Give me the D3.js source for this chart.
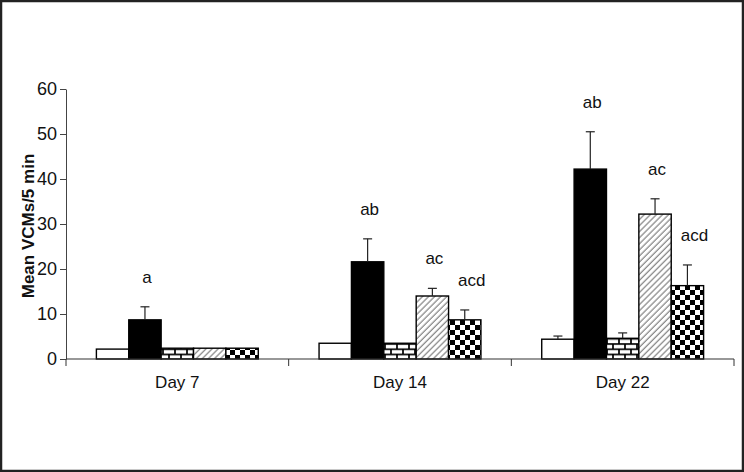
<!DOCTYPE html>
<html>
<head>
<meta charset="utf-8">
<script src="https://cdn.jsdelivr.net/npm/d3@7"></script>
<style>
    body { margin: 0; background: #fff; }
    text { font-family: "Liberation Sans", Arial, sans-serif; fill: #111; }
</style>
</head>
<body>
<div id="chart"></div>
<script>
'use strict';

// categories and treatment groups
let days = ['Day 7', 'Day 14', 'Day 22'];
let groups = ['g1', 'g2', 'g3', 'g4', 'g5'];

// mean VCMs per group, one value per day
let meanG1 = [2.2, 3.5, 4.4];
let meanG2 = [8.7, 21.6, 42.2];
let meanG3 = [2.4, 3.5, 4.6];
let meanG4 = [2.4, 14.0, 32.2];
let meanG5 = [2.4, 8.7, 16.3];

// standard error (upper bar only)
let semG1 = [0, 0, 0.7];
let semG2 = [2.9, 5.1, 8.3];
let semG3 = [0, 0, 1.2];
let semG4 = [0, 1.7, 3.4];
let semG5 = [0, 2.2, 4.6];

// significance letters
let sigG2 = ['a', 'ab', 'ab'];
let sigG4 = ['', 'ac', 'ac'];
let sigG5 = ['', 'acd', 'acd'];

let yTicks = [0, 10, 20, 30, 40, 50, 60];

let means = [meanG1, meanG2, meanG3, meanG4, meanG5];
let sems = [semG1, semG2, semG3, semG4, semG5];
let sigs = [null, sigG2, null, sigG4, sigG5];
let fills = ['#fff', '#000', 'url(#brick)', 'url(#hatch)', 'url(#check)'];

let rows = [];
days.forEach(function(day, i) {
    groups.forEach(function(g, j) {
        rows.push({
            day: day,
            group: g,
            gi: j,
            mean: means[j][i],
            sem: sems[j][i],
            sig: sigs[j] ? sigs[j][i] : ''
        });
    });
});

let width = 744,
    height = 472;
let fontSize = '17px';

let svg = d3.select('#chart')
    .append('svg')
    .attr('width', width)
    .attr('height', height);

// patterns
let defs = svg.append('defs');

let brick = defs.append('pattern')
    .attr('id', 'brick')
    .attr('patternUnits', 'userSpaceOnUse')
    .attr('width', 12)
    .attr('height', 10.4);
brick.append('rect').attr('width', 12).attr('height', 10.4).attr('fill', '#fff');
brick.append('path')
    .attr('d', 'M0,0.8H12M0,6H12M1,0V5.2M7,5.2V10.4')
    .attr('stroke', '#000')
    .attr('stroke-width', 1.7);

let hatch = defs.append('pattern')
    .attr('id', 'hatch')
    .attr('patternUnits', 'userSpaceOnUse')
    .attr('width', 4.3)
    .attr('height', 10)
    .attr('patternTransform', 'rotate(45)');
hatch.append('rect').attr('width', 4.3).attr('height', 10).attr('fill', '#fff');
hatch.append('line')
    .attr('x1', 1).attr('x2', 1)
    .attr('y1', 0).attr('y2', 10)
    .attr('stroke', '#333')
    .attr('stroke-width', 0.8);

let check = defs.append('pattern')
    .attr('id', 'check')
    .attr('patternUnits', 'userSpaceOnUse')
    .attr('width', 10)
    .attr('height', 10);
check.append('rect').attr('width', 10).attr('height', 10).attr('fill', '#fff');
check.append('path')
    .attr('d', 'M0,0h5v5h-5zM5,5h5v5h-5z')
    .attr('fill', '#000');

// frame
svg.append('rect')
    .attr('x', 1).attr('y', 1)
    .attr('width', width - 2).attr('height', height - 2)
    .attr('fill', 'none')
    .attr('stroke', '#222')
    .attr('stroke-width', 2.5);

let x0 = 66,
    x1 = 734,
    yBottom = 359,
    yTop = 89;

let x = d3.scaleBand()
    .domain(days)
    .range([x0, x1])
    .paddingInner(0.273)
    .paddingOuter(0.1365);

let xi = d3.scaleBand()
    .domain(groups)
    .range([0, x.bandwidth()]);

let y = d3.scaleLinear()
    .domain([0, 60])
    .range([yBottom, yTop]);

// y axis
let yAxis = svg.append('g')
    .attr('transform', 'translate(' + x0 + ',0)')
    .call(d3.axisLeft(y).tickValues(yTicks).tickSize(6).tickSizeOuter(0).tickPadding(3));
yAxis.select('.domain').attr('stroke', '#444');
yAxis.selectAll('.tick line').attr('stroke', '#444');
yAxis.selectAll('.tick text')
    .style('font-size', '18px')
    .style('font-family', '"Liberation Sans", Arial, sans-serif')
    .attr('fill', '#111');

svg.append('text')
    .attr('transform', 'translate(34,' + ((yTop + yBottom) / 2 + 2) + ') rotate(-90)')
    .attr('text-anchor', 'middle')
    .style('font-size', fontSize)
    .style('font-weight', 'bold')
    .text('Mean VCMs/5 min');

// bars
let bars = svg.append('g');
bars.selectAll('rect')
    .data(rows)
    .enter().append('rect')
    .attr('x', function(d) {
        return x(d.day) + xi(d.group);
    })
    .attr('y', function(d) {
        return y(d.mean);
    })
    .attr('width', xi.bandwidth())
    .attr('height', function(d) {
        return y(0) - y(d.mean);
    })
    .attr('fill', function(d) {
        return fills[d.gi];
    })
    .attr('stroke', '#000')
    .attr('stroke-width', 1.4);

// error bars
let errs = svg.append('g')
    .attr('stroke', '#222')
    .attr('stroke-width', 1.2)
    .selectAll('g')
    .data(rows.filter(function(d) {
        return d.sem > 0;
    }))
    .enter().append('g');
errs.append('line')
    .attr('x1', function(d) {
        return x(d.day) + xi(d.group) + xi.bandwidth() / 2;
    })
    .attr('x2', function(d) {
        return x(d.day) + xi(d.group) + xi.bandwidth() / 2;
    })
    .attr('y1', function(d) {
        return y(d.mean);
    })
    .attr('y2', function(d) {
        return y(d.mean + d.sem);
    });
errs.append('line')
    .attr('x1', function(d) {
        return x(d.day) + xi(d.group) + xi.bandwidth() / 2 - 4.5;
    })
    .attr('x2', function(d) {
        return x(d.day) + xi(d.group) + xi.bandwidth() / 2 + 4.5;
    })
    .attr('y1', function(d) {
        return y(d.mean + d.sem);
    })
    .attr('y2', function(d) {
        return y(d.mean + d.sem);
    });

// significance letters
svg.append('g')
    .selectAll('text')
    .data(rows.filter(function(d) {
        return d.sig;
    }))
    .enter().append('text')
    .attr('x', function(d) {
        return x(d.day) + xi(d.group) + xi.bandwidth() / 2 + (d.sig.length > 2 ? 7 : 2);
    })
    .attr('y', function(d) {
        return y(d.mean + d.sem) - 24;
    })
    .attr('text-anchor', 'middle')
    .style('font-size', fontSize)
    .text(function(d) {
        return d.sig;
    });

// x axis
let xAxis = svg.append('g')
    .attr('transform', 'translate(0,' + yBottom + ')');
xAxis.append('line')
    .attr('x1', x0).attr('x2', x1)
    .attr('stroke', '#333')
    .attr('stroke-width', 1.2);
let bounds = days.map(function(d) {
    return x(d) - x.step() * x.paddingInner() / 2;
});
bounds.push(x1);
xAxis.selectAll('.bound')
    .data(bounds)
    .enter().append('line')
    .attr('class', 'bound')
    .attr('x1', function(d) { return d; })
    .attr('x2', function(d) { return d; })
    .attr('y1', 0)
    .attr('y2', 7)
    .attr('stroke', '#333');
xAxis.selectAll('.lbl')
    .data(days)
    .enter().append('text')
    .attr('class', 'lbl')
    .attr('x', function(d) {
        return x(d) + x.bandwidth() / 2;
    })
    .attr('y', 29)
    .attr('text-anchor', 'middle')
    .style('font-size', fontSize)
    .text(function(d) {
        return d;
    });
</script>
</body>
</html>
